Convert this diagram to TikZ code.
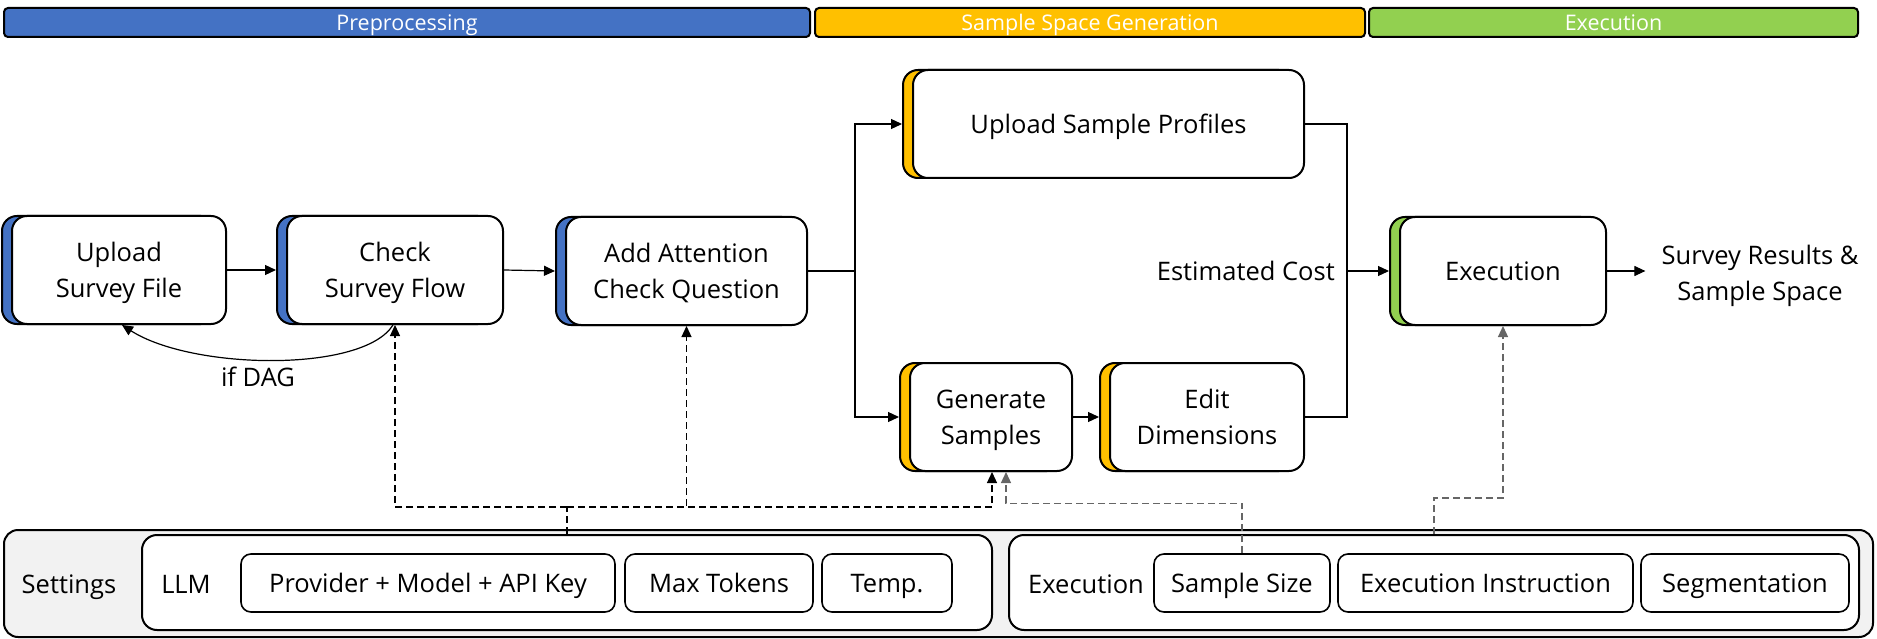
\documentclass[tikz,border=0pt]{standalone}
\usepackage{fontspec}
\setmainfont{Open Sans}
\usetikzlibrary{arrows.meta,shadows}
\definecolor{pblue}{HTML}{4472C4}
\definecolor{pyellow}{HTML}{FFC000}
\definecolor{pgreen}{HTML}{92D050}
\definecolor{setgray}{HTML}{F2F2F2}
\begin{document}
\begin{tikzpicture}[x=1pt,y=-1pt,
  txt/.style={font=\fontsize{25.5}{36}\selectfont, align=center, inner sep=0pt},
  one/.style={text height=18.2pt, text depth=0pt},
  two/.style={text depth=0pt},
  proc/.style={txt, draw=black, line width=2pt, fill=white, rounded corners=15pt, minimum height=108pt},
  shb/.style={general shadow={shadow xshift=-10pt, shadow yshift=0pt, fill=pblue, draw=black, line width=2pt}},
  shy/.style={general shadow={shadow xshift=-10pt, shadow yshift=0pt, fill=pyellow, draw=black, line width=2pt}},
  shg/.style={general shadow={shadow xshift=-10pt, shadow yshift=0pt, fill=pgreen, draw=black, line width=2pt}},
  ban/.style={draw=black, line width=2pt, rounded corners=4pt, minimum height=29pt, inner sep=0pt, text=white, font=\fontsize{21.5}{26}\selectfont, text height=15.5pt, text depth=0pt},
  grp/.style={draw=black, line width=2pt, fill=white, rounded corners=15pt, minimum height=95pt, inner sep=0pt},
  opt/.style={txt, one, draw=black, line width=1.6pt, fill=white, rounded corners=10pt, minimum height=58pt},
  conn/.style={line width=1.2pt, draw=black},
  arr/.style={conn, -{Triangle[length=11pt,width=10pt]}},
  dsh/.style={dash pattern=on 7pt off 4pt},
  gdsh/.style={dash pattern=on 7pt off 4pt, draw=black!60}
]
\useasboundingbox (0,0) rectangle (1877,639);

% phase banners
\node[ban, fill=pblue, minimum width=806pt] (b1) at (407,22.5) {Preprocessing};
\node[ban, fill=pyellow, minimum width=550pt] (b2) at (1090,22.5) {Sample Space Generation};
\node[ban, fill=pgreen, minimum width=489pt] (b3) at (1613.5,22.5) {Execution};

% process nodes
\node[proc, two, shb, minimum width=214pt] (up) at (119,270) {Upload\\Survey File};
\node[proc, two, shb, minimum width=216pt] (chk) at (395,270) {Check\\Survey Flow};
\node[proc, two, shb, minimum width=241pt] (add) at (686.5,271) {Add Attention\\Check Question};
\node[proc, shy, one, minimum width=391pt] (usp) at (1108.5,124) {Upload Sample Profiles};
\node[proc, two, shy, minimum width=162pt] (gen) at (991,417) {Generate\\Samples};
\node[proc, two, shy, minimum width=194pt] (edit) at (1207,417) {Edit\\Dimensions};
\node[proc, shg, one, minimum width=206pt] (exe) at (1503,271) {Execution};

\node[txt, one, anchor=east] (cost) at (1335,271) {Estimated Cost};
\node[txt, two, inner xsep=16pt] (res) at (1760,273) {Survey Results \&\\Sample Space};
\node[txt, one] (dag) at (258,377) {if DAG};

% settings
\node[draw=black, line width=2pt, fill=setgray, rounded corners=14pt, minimum width=1869pt, minimum height=107pt, inner sep=0pt] (set) at (938.5,583.5) {};
\node[txt, one] (setl) at (69,584) {Settings};
\node[grp, minimum width=850pt] (llm) at (567,582.5) {};
\node[txt, one] (llml) at (186,584) {LLM};
\node[opt, minimum width=374pt] (prov) at (428,583) {Provider + Model + API Key};
\node[opt, minimum width=188pt] (maxt) at (719,583) {Max Tokens};
\node[opt, minimum width=130pt] (temp) at (887,583) {Temp.};
\node[grp, minimum width=850pt] (ebox) at (1434,582.5) {};
\node[txt, one] (exl) at (1086,584) {Execution};
\node[opt, minimum width=176pt] (ssz) at (1242,583) {Sample Size};
\node[opt, minimum width=295pt] (ein) at (1485.5,583) {Execution Instruction};
\node[opt, minimum width=208pt] (seg) at (1745,583) {Segmentation};

% junction coordinates
\coordinate (sp) at (855,271);
\coordinate (mrg) at (1347,271);
\coordinate (lj) at (567,507);

% solid connectors
\draw[arr] (up.east) -- ([xshift=-10pt]chk.west);
\draw[arr] (chk.east) -- ([xshift=-10pt]add.west);
\draw[conn] (add.east) -- (sp);
\draw[arr] (sp) |- ([xshift=-10pt]usp.west);
\draw[arr] (sp) |- ([xshift=-10pt]gen.west);
\draw[arr] (gen.east) -- ([xshift=-10pt]edit.west);
\draw[conn] (usp.east) -| (mrg);
\draw[conn] (edit.east) -| (mrg);
\draw[arr] (mrg) -- ([xshift=-10pt]exe.west);
\draw[arr] (exe.east) -- (exe.east -| res.west);
\draw[arr] ([xshift=-2pt]chk.south) .. controls +(-30,48) and +(70,45) .. ([xshift=3pt]up.south);

% dashed settings connectors
\draw[conn, dsh] (llm.north) -- (lj);
\draw[arr, dsh] (lj) -| (chk.south);
\draw[arr, dsh] (lj) -| (add.south);
\draw[arr, dsh] (lj) -| ([xshift=1pt]gen.south);
\draw[arr, gdsh] (ssz.north) -- ++(0,-50) -| ([xshift=15pt]gen.south);
\draw[arr, gdsh] (ebox.north) -- ++(0,-36) -| (exe.south);
\end{tikzpicture}
\end{document}
